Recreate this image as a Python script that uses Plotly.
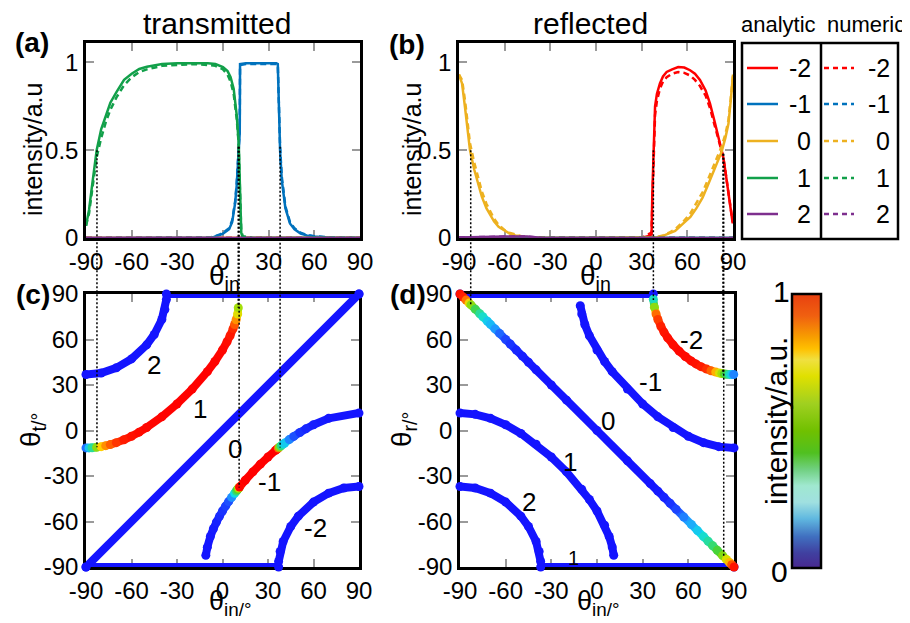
import plotly.graph_objects as go

# The page body has an 8px margin, so the figure is drawn 8px in from the top-left corner.
W, H = 910, 623
OFF = 8
FW, FH = W - OFF, H - OFF
FONT = "Liberation Sans, Arial, sans-serif"

# ---------------- data ----------------
ORDERS = [-2, -1, 0, 1, 2]
ORDER_COLORS = ['#ff0000', '#0072bd', '#edb120', '#12a04a', '#7e2f8e']

ZERO_X = [-90, 90]
ZERO_Y = [0, 0]

# (a) transmitted, order 1
t1_x = [-90, -88, -86, -83, -80, -77, -74, -70, -65, -60, -55, -50, -40, -30, -20, -10, -5, 0, 3, 5,
        7, 8, 9, 10, 10.4, 11.2, 12, 13, 20, 40, 60, 90]
t1_analytic = [0.07, 0.16, 0.3, 0.5, 0.62, 0.7, 0.77, 0.83, 0.9, 0.935, 0.962, 0.975, 0.99, 0.995, 0.996,
               0.995, 0.99, 0.973, 0.95, 0.915, 0.85, 0.78, 0.7, 0.58, 0.52, 0.27, 0.03, 0, 0, 0, 0, 0]
t1_numeric = [0.07, 0.14, 0.27, 0.46, 0.57, 0.66, 0.73, 0.8, 0.87, 0.915, 0.945, 0.96, 0.98, 0.985, 0.99,
              0.985, 0.98, 0.96, 0.93, 0.89, 0.82, 0.75, 0.68, 0.57, 0.5, 0.26, 0.04, 0.01, 0, 0, 0, 0]
# (a) transmitted, order -1
tm1_x = [-90, -30, -11, -10, -8, -6, -4, -2, 0, 2, 4, 6, 8, 9, 9.5, 10, 10.4, 10.7, 11.0, 11.2,
         15, 20, 25, 30, 35, 36, 36.8, 37.5, 38.6, 40, 41, 44, 47, 51, 55, 60, 70, 90]
tm1_analytic = [0, 0, 0, 0.001, 0.003, 0.006, 0.01, 0.018, 0.025, 0.035, 0.05, 0.09, 0.2, 0.3, 0.37, 0.43,
                0.48, 0.52, 0.6, 0.99, 0.995, 0.995, 0.995, 0.995, 0.995, 0.99, 0.75, 0.5, 0.33, 0.22,
                0.17, 0.083, 0.05, 0.025, 0.015, 0.008, 0.002, 0]
tm1_numeric = [0, 0, 0, 0.002, 0.004, 0.008, 0.012, 0.02, 0.03, 0.04, 0.055, 0.1, 0.21, 0.31, 0.38, 0.44,
               0.49, 0.53, 0.62, 0.985, 0.99, 0.99, 0.99, 0.99, 0.99, 0.985, 0.76, 0.52, 0.35, 0.24,
               0.18, 0.09, 0.055, 0.03, 0.018, 0.01, 0.003, 0]

# (b) reflected, order 0
r0_x = [-90, -88, -86, -84, -82.8, -80, -77, -75, -72, -70, -67, -64, -60, -57, -53, -49, -45, -40, -30, -20,
        0, 20, 35, 40, 44, 48, 52, 57, 62, 66, 70, 73, 76, 79, 82.5, 85, 87, 88.5, 90]
r0_analytic = [0.93, 0.88, 0.74, 0.6, 0.5, 0.39, 0.3, 0.235, 0.17, 0.14, 0.095, 0.064, 0.04, 0.027, 0.015,
               0.008, 0.004, 0.002, 0, 0, 0, 0, 0, 0.004, 0.012, 0.025, 0.04, 0.08, 0.12, 0.17, 0.23, 0.29,
               0.35, 0.42, 0.49, 0.57, 0.65, 0.78, 0.93]
r0_numeric = [0.93, 0.9, 0.78, 0.64, 0.54, 0.43, 0.33, 0.265, 0.195, 0.16, 0.11, 0.075, 0.045, 0.03, 0.018,
              0.01, 0.005, 0.002, 0, 0, 0, 0, 0, 0.005, 0.015, 0.03, 0.05, 0.09, 0.14, 0.2, 0.26, 0.32,
              0.38, 0.45, 0.52, 0.59, 0.67, 0.79, 0.93]
# (b) reflected, order -2
rm2_x = [-90, 30, 34, 36.5, 37, 37.7, 38.8, 40, 42, 44, 46.4, 50, 54, 58, 61.8, 65, 68.3, 72, 74.9, 78,
         80.4, 82, 83.6, 85, 86.9, 88.5, 89.8]
rm2_analytic = [0, 0, 0.01, 0.02, 0.25, 0.5, 0.75, 0.82, 0.88, 0.92, 0.945, 0.96, 0.973, 0.97, 0.955,
                0.935, 0.9, 0.84, 0.765, 0.66, 0.576, 0.52, 0.46, 0.38, 0.27, 0.17, 0.083]
rm2_numeric = [0, 0, 0.02, 0.03, 0.2, 0.45, 0.7, 0.78, 0.85, 0.89, 0.915, 0.935, 0.945, 0.94, 0.925,
               0.9, 0.865, 0.81, 0.74, 0.64, 0.56, 0.51, 0.46, 0.38, 0.27, 0.17, 0.09]
# (b) reflected, order 2 (tiny)
r2_x = [-90, -80, -60, -45, -40, -35, 90]
r2_y = [0.003, 0.006, 0.008, 0.008, 0.004, 0, 0]

# (c) transmitted angles (deg)
c_o1_theta = [-11.5, -11.5, -11.4, -11.1, -10.65, -10.0, -9.3, -8.0, -6.1, -3.8, -1.1, 1.95, 9.0, 17.5, 27.3,
              38.8, 45.5, 53.1, 58.5, 62.5, 67.2, 69.9, 73.0, 76.8, 81.0]          # t1_x[0:25]
c_om1_theta = [-82.3, -76.9, -69.9, -64.8, -60.4, -56.6, -53.1, -49.9, -46.9, -44.1, -41.4, -40.1, -39.4,
               -38.8, -38.3, -37.9, -37.5, -37.3, -32.8, -27.3, -22.2, -17.5, -13.1, -12.25, -11.6, -11.0,
               -10.1, -9.0, -8.3, -6.0, -3.9, -1.3, 1.1, 3.8, 8.0, 11.5]            # tm1_x[2:]
c_o0_x = [-90, 90]
c_o0_theta = [-90, 90]
c_o2_x = [-90, -80, -70, -60, -50, -45, -40, -38, -37]
c_o2_theta = [36.9, 37.9, 41.3, 47.2, 56.5, 63.3, 73.2, 79.7, 86.4]
c_om2_x = [37, 38, 40, 45, 50, 60, 70, 80, 90]
c_om2_theta = [-86.4, -79.7, -73.2, -63.3, -56.5, -47.2, -41.3, -37.9, -36.9]
c_top_x, c_top_theta = [-37, 90], [90, 90]
c_bot_x, c_bot_theta = [-90, 37], [-90, -90]

# (d) reflected angles (deg)
d_o0_theta = [90, 88, 86, 84, 82.8, 80, 77, 75, 72, 70, 67, 64, 60, 57, 53, 49, 45, 40, 30, 20, 0, -20, -35,
              -40, -44, -48, -52, -57, -62, -66, -70, -73, -76, -79, -82.5, -85, -87, -88.5, -90]   # r0_x
d_om2_theta = [86.6, 81.3, 76.8, 73.2, 68.6, 64.9, 61.1, 56.5, 52.3, 48.8, 45.9, 43.9, 42.1, 40.5, 39.4,
               38.5, 37.9, 37.6, 37.3, 37.1, 37.0, 36.9, 36.9]                       # rm2_x[4:]
d_om1_x = [-11, -10, -8, -5, 0, 5, 10, 20, 30, 40, 50, 60, 70, 80, 90]
d_om1_theta = [82.3, 76.8, 69.9, 62.5, 53.1, 45.5, 38.8, 27.3, 17.5, 9.0, 1.95, -3.8, -8.0, -10.65, -11.5]
d_o1_x = [-90, -80, -70, -60, -50, -40, -30, -20, -10, -5, 0, 5, 8, 10, 11]
d_o1_theta = [11.5, 10.65, 8.0, 3.8, -1.95, -9.0, -17.5, -27.3, -38.8, -45.5, -53.1, -62.5, -69.9, -76.8, -82.3]
d_o2_x = [-90, -80, -70, -60, -50, -45, -40, -38, -37]
d_o2_theta = [-36.9, -37.9, -41.3, -47.2, -56.5, -63.3, -73.2, -79.7, -86.4]
d_top_x, d_top_theta = [-90, 37], [90, 90]
d_bot_x, d_bot_theta = [-37, 90], [-90, -90]

TICKS_ANGLE = [-90, -60, -30, 0, 30, 60, 90]
TICKS_INT = [0, 0.5, 1]
TICKS_INT_TEXT = ['0', '0.5', '1']

# ---------------- styling ----------------
SCATTER_SCALE = [[0, '#1414ff'], [0.05, '#1e50ff'], [0.1, '#1ea0ff'], [0.2, '#10dce6'],
                 [0.33, '#30dc80'], [0.45, '#50d020'], [0.55, '#c8e600'], [0.62, '#ffd000'],
                 [0.72, '#ff8000'], [0.85, '#ff2800'], [1, '#ff0000']]
CBAR_SCALE = [[0, '#482890'], [0.055, '#4040a0'], [0.115, '#4070c0'], [0.18, '#60b8e0'],
              [0.24, '#a0e0e0'], [0.30, '#a0e8d0'], [0.36, '#70d080'], [0.42, '#50c020'],
              [0.5, '#70c000'], [0.6, '#a0d020'], [0.7, '#e0e000'], [0.76, '#f0e040'],
              [0.8, '#ffc000'], [0.84, '#f8a000'], [0.92, '#f06010'], [1, '#e84010']]
BLUE = '#1414ff'
CURVE_W = 8
DOT_SIZE = 9


def hex2rgb(h):
    h = h.lstrip('#')
    return [int(h[i:i + 2], 16) for i in (0, 2, 4)]


def cmap(v):
    v = max(0.0, min(1.0, v))
    for (a, ca), (b, cb) in zip(SCATTER_SCALE[:-1], SCATTER_SCALE[1:]):
        if a <= v <= b:
            t = 0 if b == a else (v - a) / (b - a)
            A, B = hex2rgb(ca), hex2rgb(cb)
            return 'rgb(%d,%d,%d)' % tuple(round(A[i] + (B[i] - A[i]) * t) for i in range(3))
    return SCATTER_SCALE[-1][1]


def px(x):
    return (x - OFF) / FW


def py(y):
    return 1 - (y - OFF) / FH


DOM = {
    'a': ([86, 360], [43, 238]),
    'b': ([459, 733], [43, 238]),
    'c': ([86, 359], [294, 567]),
    'd': ([460, 734], [294, 567]),
}


def xdom(k):
    return [px(DOM[k][0][0]), px(DOM[k][0][1])]


def ydom(k):
    return [py(DOM[k][1][1]), py(DOM[k][1][0])]


fig = go.Figure()

# ---- intensity panels (a), (b)
a_series = {
    -2: (ZERO_X, ZERO_Y, ZERO_Y),
    -1: (tm1_x, tm1_analytic, tm1_numeric),
    0: (ZERO_X, ZERO_Y, ZERO_Y),
    1: (t1_x, t1_analytic, t1_numeric),
    2: (ZERO_X, ZERO_Y, ZERO_Y),
}
b_series = {
    -2: (rm2_x, rm2_analytic, rm2_numeric),
    -1: (ZERO_X, ZERO_Y, ZERO_Y),
    0: (r0_x, r0_analytic, r0_numeric),
    1: (ZERO_X, ZERO_Y, ZERO_Y),
    2: (r2_x, r2_y, r2_y),
}
for series, xa, ya in [(a_series, 'x', 'y'), (b_series, 'x2', 'y2')]:
    for o, col in zip(ORDERS, ORDER_COLORS):
        xs, an, nu = series[o]
        fig.add_trace(go.Scatter(x=xs, y=an, mode='lines', line=dict(color=col, width=2.5),
                                 xaxis=xa, yaxis=ya, showlegend=False, cliponaxis=False, hoverinfo='skip'))
        fig.add_trace(go.Scatter(x=xs, y=nu, mode='lines', line=dict(color=col, width=2.5, dash='6px,4px'),
                                 xaxis=xa, yaxis=ya, showlegend=False, cliponaxis=False, hoverinfo='skip'))


# ---- angle panels (c), (d)
def plain_curve(xs, ys, xa, ya):
    fig.add_trace(go.Scatter(x=xs, y=ys, mode='lines+markers', line=dict(color=BLUE, width=CURVE_W),
                             marker=dict(color=BLUE, size=DOT_SIZE), xaxis=xa, yaxis=ya,
                             showlegend=False, cliponaxis=False, hoverinfo='skip'))


def colored_curve(xs, ys, vals, xa, ya):
    for i in range(len(xs) - 1):
        fig.add_trace(go.Scatter(x=[xs[i], xs[i + 1]], y=[ys[i], ys[i + 1]], mode='lines',
                                 line=dict(color=cmap((vals[i] + vals[i + 1]) / 2), width=CURVE_W),
                                 xaxis=xa, yaxis=ya, showlegend=False, cliponaxis=False, hoverinfo='skip'))
    fig.add_trace(go.Scatter(x=xs, y=ys, mode='markers',
                             marker=dict(color=[cmap(v) for v in vals], size=DOT_SIZE),
                             xaxis=xa, yaxis=ya, showlegend=False, cliponaxis=False, hoverinfo='skip'))


plain_curve(c_top_x, c_top_theta, 'x3', 'y3')
plain_curve(c_bot_x, c_bot_theta, 'x3', 'y3')
plain_curve(c_o0_x, c_o0_theta, 'x3', 'y3')
plain_curve(c_o2_x, c_o2_theta, 'x3', 'y3')
plain_curve(c_om2_x, c_om2_theta, 'x3', 'y3')
colored_curve(t1_x[:25], c_o1_theta, t1_analytic[:25], 'x3', 'y3')
colored_curve(tm1_x[2:], c_om1_theta, tm1_analytic[2:], 'x3', 'y3')

plain_curve(d_top_x, d_top_theta, 'x4', 'y4')
plain_curve(d_bot_x, d_bot_theta, 'x4', 'y4')
plain_curve(d_om1_x, d_om1_theta, 'x4', 'y4')
plain_curve(d_o1_x, d_o1_theta, 'x4', 'y4')
plain_curve(d_o2_x, d_o2_theta, 'x4', 'y4')
colored_curve(r0_x, d_o0_theta, r0_analytic, 'x4', 'y4')
colored_curve(rm2_x[4:], d_om2_theta, rm2_analytic[4:], 'x4', 'y4')

# colorbar holder
fig.add_trace(go.Scatter(x=[None], y=[None], mode='markers', xaxis='x4', yaxis='y4', showlegend=False,
                         marker=dict(color=[0], colorscale=CBAR_SCALE, cmin=0, cmax=1, showscale=True,
                                     colorbar=dict(x=px(792), xanchor='left', xref='paper',
                                                   y=py(294), yanchor='top', yref='paper',
                                                   len=(568 - 294) / FH, lenmode='fraction',
                                                   thickness=29, thicknessmode='pixels',
                                                   xpad=0, ypad=0, outlinewidth=2.5, outlinecolor='black',
                                                   showticklabels=False, ticks=''))))

# ---------------- axes ----------------
axis_common = dict(showline=True, linecolor='black', linewidth=2.5, mirror='ticks', ticks='inside',
                   ticklen=8, tickwidth=1.5, tickcolor='#9a9a9a', showgrid=False, zeroline=False,
                   automargin=False,
                   tickfont=dict(size=24, family=FONT, color='black'), layer='below traces')

layout_axes = {}
for k, xn, yn in [('a', 'xaxis', 'yaxis'), ('b', 'xaxis2', 'yaxis2'), ('c', 'xaxis3', 'yaxis3'),
                  ('d', 'xaxis4', 'yaxis4')]:
    anchor_y = {'a': 'y', 'b': 'y2', 'c': 'y3', 'd': 'y4'}[k]
    anchor_x = {'a': 'x', 'b': 'x2', 'c': 'x3', 'd': 'x4'}[k]
    layout_axes[xn] = dict(axis_common, domain=xdom(k), anchor=anchor_y, range=[-90, 90],
                           tickvals=TICKS_ANGLE, ticktext=[str(t) for t in TICKS_ANGLE])
    if k in ('a', 'b'):
        layout_axes[yn] = dict(axis_common, domain=ydom(k), anchor=anchor_x, range=[0, 1.11],
                               tickvals=TICKS_INT, ticktext=TICKS_INT_TEXT)
    else:
        layout_axes[yn] = dict(axis_common, domain=ydom(k), anchor=anchor_x, range=[-90, 90],
                               tickvals=TICKS_ANGLE, ticktext=[str(t) for t in TICKS_ANGLE])

# ---------------- annotations ----------------
ann = []


def text(x, y, s, size, bold=False, angle=0, xanchor='center', yanchor='middle'):
    ann.append(dict(x=px(x), y=py(y), xref='paper', yref='paper', text=('<b>%s</b>' % s) if bold else s,
                    showarrow=False, textangle=angle, xanchor=xanchor, yanchor=yanchor, borderpad=0,
                    font=dict(size=size, family=FONT, color='black')))


text(217, 24, 'transmitted', 30)
text(590, 24, 'reflected', 30)
text(32, 42, '(a)', 28, bold=True)
text(407, 44, '(b)', 28, bold=True)
text(33, 294, '(c)', 28, bold=True)
text(408, 294, '(d)', 28, bold=True)
text(33, 150, 'intensity/a.u', 25, angle=-90)
text(412, 150, 'intensity/a.u', 25, angle=-90)
text(224, 278, 'θ<sub>in</sub>', 28)
text(595, 278, 'θ<sub>in</sub>', 28)
text(230, 603, 'θ<sub>in/°</sub>', 27)
text(598, 603, 'θ<sub>in/°</sub>', 27)
text(32, 430, 'θ<sub>t/°</sub>', 28, angle=-90)
text(403, 430, 'θ<sub>r/°</sub>', 28, angle=-90)

# legend header and box
text(778, 25, 'analytic', 22)
text(866, 25, 'numeric', 22)
LEG_ROWS_Y = [68, 104, 141, 178, 214]
shapes = [
    dict(type='rect', xref='paper', yref='paper', x0=px(742), x1=px(898), y0=py(239), y1=py(43),
         line=dict(color='black', width=2.5)),
    dict(type='line', xref='paper', yref='paper', x0=px(821), x1=px(821), y0=py(239), y1=py(43),
         line=dict(color='black', width=2.5)),
]
for o, col, yy in zip(ORDERS, ORDER_COLORS, LEG_ROWS_Y):
    shapes.append(dict(type='line', xref='paper', yref='paper', x0=px(747), x1=px(778), y0=py(yy), y1=py(yy),
                       line=dict(color=col, width=2.5)))
    shapes.append(dict(type='line', xref='paper', yref='paper', x0=px(824), x1=px(854), y0=py(yy), y1=py(yy),
                       line=dict(color=col, width=2.5, dash='5px,4px')))
    text(812, yy, str(o), 25, xanchor='right')
    text(891, yy, str(o), 25, xanchor='right')

# colorbar labels
text(781, 291, '1', 30)
text(779, 571, '0', 30)
text(776, 421, 'intensity/a.u.', 30, angle=-90)

# order labels in (c) and (d)
C_LABELS = [('2', -45, 43), ('1', -15, 14.5), ('0', 8, -12), ('-1', 31, -34), ('-2', 61, -64.5)]
D_LABELS = [('-2', 62, 59.5), ('-1', 35, 32), ('0', 7.5, 6), ('1', -18, -20.5), ('2', -44.5, -47)]
for s, xx, yy in C_LABELS:
    ann.append(dict(x=xx, y=yy, xref='x3', yref='y3', text=s, showarrow=False,
                    font=dict(size=26, family=FONT, color='black')))
for s, xx, yy in D_LABELS:
    ann.append(dict(x=xx, y=yy, xref='x4', yref='y4', text=s, showarrow=False,
                    font=dict(size=26, family=FONT, color='black')))
ann.append(dict(x=-15.5, y=-84, xref='x4', yref='y4', text='1', showarrow=False,
                font=dict(size=20, family=FONT, color='black')))

# dotted guide lines: (top panel, bottom panel, theta_in, top intensity, bottom angle, width)
GUIDES = [('a', 'c', -82.8, 0.5, -11.1, 1.5), ('a', 'c', 10.0, 0.52, 81.0, 1.5),
          ('a', 'c', 10.6, 0.52, -37.5, 1.5), ('a', 'c', 37.5, 0.52, -11.2, 1.5),
          ('b', 'd', -82.3, 0.5, 82.5, 1.5), ('b', 'd', 37.7, 0.5, 86.0, 1.5),
          ('b', 'd', 83.4, 0.48, 37.3, 1.5), ('b', 'd', 83.9, 0.48, -83.7, 1.5)]


def data_to_paper(k, xv, yv, yrange):
    xd, yd = xdom(k), ydom(k)
    xp = xd[0] + (xv + 90) / 180 * (xd[1] - xd[0])
    ypp = yd[0] + (yv - yrange[0]) / (yrange[1] - yrange[0]) * (yd[1] - yd[0])
    return xp, ypp


for top, bot, th, it, ang, wdt in GUIDES:
    x0, y0 = data_to_paper(top, th, it, [0, 1.11])
    _, y1 = data_to_paper(bot, th, ang, [-90, 90])
    shapes.append(dict(type='line', xref='paper', yref='paper', x0=x0, x1=x0, y0=y0, y1=y1,
                       line=dict(color='black', width=wdt, dash='2px,2px')))

fig.update_layout(template='none', width=FW, height=FH, autosize=False,
                  margin=dict(l=0, r=0, t=0, b=0, pad=0),
                  paper_bgcolor='white', plot_bgcolor='white', showlegend=False,
                  annotations=ann, shapes=shapes, **layout_axes)

fig.write_html("out.html")
